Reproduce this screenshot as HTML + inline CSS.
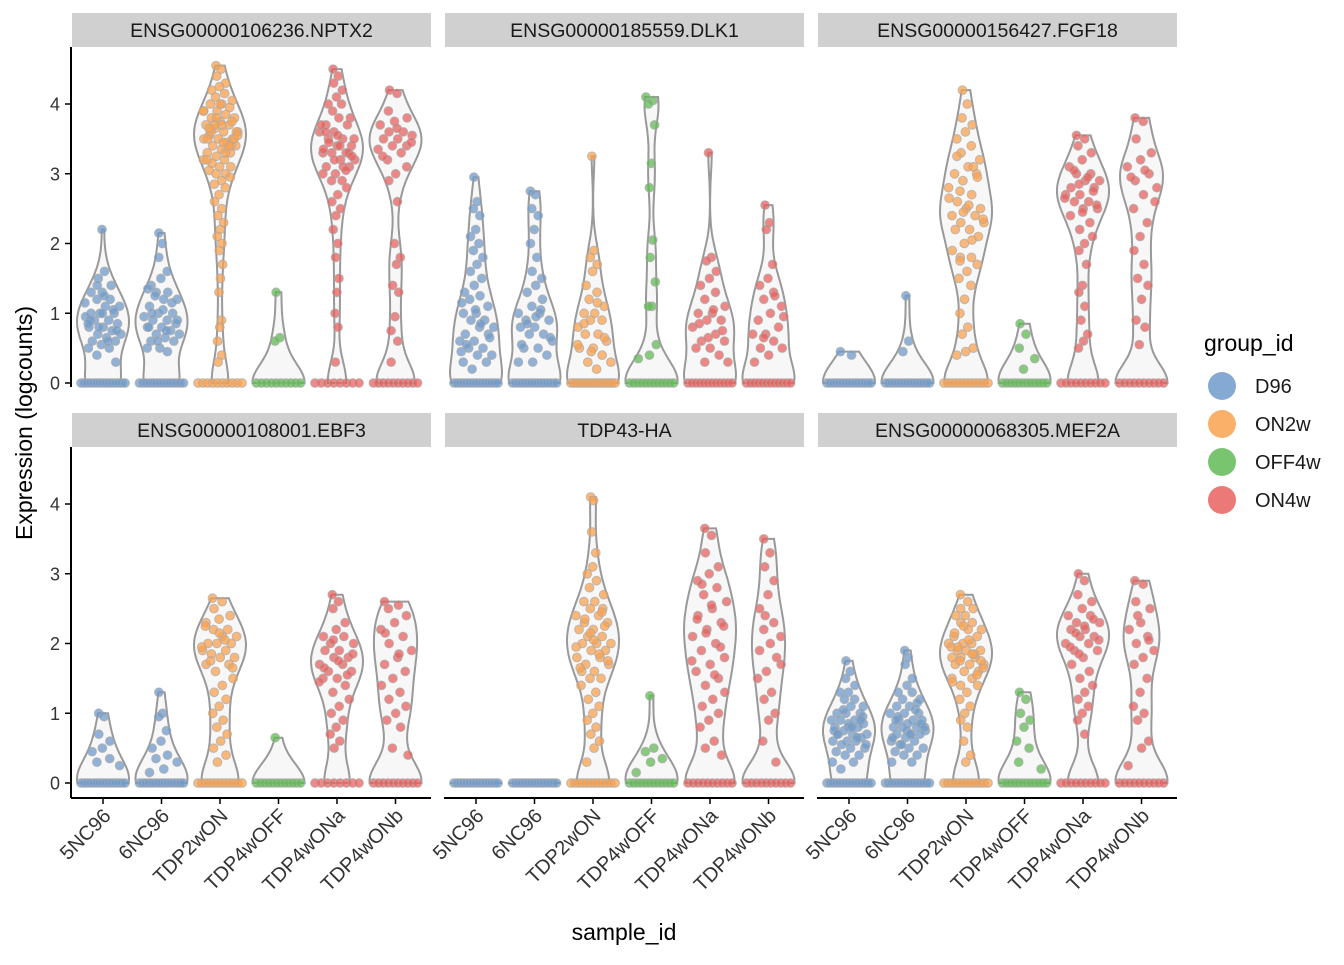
<!DOCTYPE html>
<html><head><meta charset="utf-8">
<style>
body{margin:0;background:#fff;}
svg text{font-family:"Liberation Sans",Arial,sans-serif;}
</style></head>
<body>
<svg id="chart" width="1344" height="960" xmlns="http://www.w3.org/2000/svg"></svg>
<script>
const categories = ["5NC96","6NC96","TDP2wON","TDP4wOFF","TDP4wONa","TDP4wONb"];
const groupOfCategory = ["D96","D96","ON2w","OFF4w","ON4w","ON4w"];
const groups = ["D96","ON2w","OFF4w","ON4w"];
const panelTitles = ["ENSG00000106236.NPTX2","ENSG00000185559.DLK1","ENSG00000156427.FGF18","ENSG00000108001.EBF3","TDP43-HA","ENSG00000068305.MEF2A"];
const yTicks = [0,1,2,3,4];
const zeroCounts = [
 [15,14,10,10,8,10],[15,15,15,12,12,12],[15,15,12,12,10,10],
 [15,15,12,12,8,10],[15,15,12,12,10,10],[15,15,12,12,10,10]];
const nptx2Vals = [
 [2.2,1.6,1.5,1.4,1.3,1.3,1.2,1.2,1.1,1.1,1.0,1.0,1.0,0.95,0.9,0.9,0.85,0.8,0.8,0.75,0.7,0.7,0.65,0.6,0.6,0.55,0.5,0.5,0.4,0.3,1.25,0.9,1.05,0.8,1.15,0.6,1.4,0.75,1.0,0.85],
 [2.15,2.0,1.8,1.6,1.5,1.4,1.3,1.3,1.2,1.2,1.1,1.0,1.0,0.95,0.9,0.9,0.85,0.8,0.8,0.75,0.7,0.7,0.65,0.6,0.6,0.5,0.5,0.45,1.25,0.9,1.05,0.8,1.15,0.6,1.35,0.75,1.0],
 [4.55,4.5,4.4,4.3,4.25,4.2,4.15,4.1,4.05,4.0,4.0,3.95,3.9,3.9,3.85,3.8,3.8,3.75,3.7,3.7,3.65,3.6,3.6,3.55,3.5,3.5,3.5,3.45,3.4,3.4,3.35,3.3,3.3,3.25,3.2,3.2,3.15,3.1,3.1,3.05,3.0,3.0,2.95,2.9,2.85,2.8,2.7,2.6,2.5,2.4,2.3,2.2,2.1,2.0,1.9,1.7,1.5,1.3,0.9,0.8,0.6,0.4,0.3,3.6,3.7,3.5,3.4,3.8,3.9,3.3,3.6,3.5,4.0,3.2,3.4,3.7,3.55,3.45,3.65,3.75],
 [1.3,0.65,0.6],
 [4.5,4.4,4.3,4.2,4.1,4.0,4.0,3.9,3.8,3.8,3.7,3.7,3.6,3.6,3.5,3.5,3.4,3.4,3.3,3.3,3.3,3.2,3.2,3.1,3.1,3.0,3.0,2.9,2.9,2.8,2.7,2.6,2.5,2.4,2.2,2.0,1.8,1.5,1.3,1.0,0.8,0.3,3.5,3.4,3.6,3.3,3.2,3.7,3.1,3.45,3.25,3.55,3.35,3.05],
 [4.2,4.15,3.9,3.8,3.75,3.7,3.6,3.6,3.55,3.5,3.5,3.4,3.4,3.35,3.3,3.2,3.1,3.0,2.9,2.6,2.0,1.8,1.7,1.4,1.3,0.95,0.75,0.6,0.3,3.45,3.65,3.25]];
const dlk1Vals = [
 [2.95,2.6,2.5,2.4,2.2,2.1,2.0,1.9,1.8,1.7,1.6,1.5,1.4,1.3,1.25,1.2,1.1,1.0,1.0,0.9,0.9,0.8,0.8,0.7,0.7,0.6,0.6,0.5,0.5,0.4,0.4,0.3,0.3,0.2,1.15,0.85,0.55,0.65,1.05,0.45],
 [2.75,2.7,2.5,2.4,2.2,2.0,1.8,1.6,1.5,1.4,1.3,1.2,1.1,1.0,1.0,0.9,0.9,0.8,0.8,0.7,0.7,0.6,0.5,0.5,0.4,0.3,0.3,1.05,0.85,0.65,0.95,0.55],
 [3.25,1.9,1.8,1.7,1.6,1.4,1.3,1.2,1.1,1.0,1.0,0.9,0.9,0.8,0.7,0.7,0.6,0.5,0.5,0.4,0.3,0.3,0.2,0.85,0.65,0.45,0.55,1.15],
 [4.1,4.05,4.0,3.7,3.15,2.8,2.05,1.8,1.45,1.1,1.1,0.55,0.4,0.35],
 [3.3,1.8,1.75,1.6,1.5,1.4,1.3,1.2,1.1,1.0,1.0,0.9,0.9,0.8,0.7,0.6,0.6,0.5,0.5,0.4,0.3,0.3,1.05,0.85,0.75,0.65],
 [2.55,2.3,2.2,1.7,1.5,1.4,1.3,1.2,1.1,1.0,0.9,0.8,0.7,0.7,0.6,0.5,0.5,0.4,0.3,1.25,0.65,0.95]];
const fgf18Vals = [
 [0.45,0.4],[1.25,0.6,0.45],
 [4.2,4.0,3.8,3.7,3.6,3.5,3.4,3.3,3.2,3.1,3.0,3.0,2.9,2.8,2.7,2.6,2.5,2.5,2.4,2.4,2.3,2.3,2.2,2.2,2.1,2.0,1.9,1.8,1.8,1.7,1.6,1.5,1.4,1.2,1.0,0.8,0.7,0.5,0.45,0.4,3.1,2.75,2.35,2.55,3.25,2.95,2.45,2.65,2.05,1.75],
 [0.85,0.7,0.5,0.35,0.2],
 [3.55,3.5,3.4,3.3,3.2,3.1,3.0,3.0,2.9,2.9,2.8,2.8,2.7,2.7,2.6,2.6,2.5,2.5,2.4,2.3,2.2,2.1,2.0,1.9,1.7,1.4,1.3,1.1,0.9,0.7,0.6,0.5,2.75,2.85,2.65,2.95,3.05,2.55,2.45],
 [3.8,3.75,3.5,3.3,3.2,3.1,3.0,2.9,2.8,2.7,2.5,2.3,2.1,1.9,1.7,1.5,1.4,1.2,0.9,0.8,0.55,2.6,3.05,2.95]];
const ebf3Vals = [
 [1.0,0.95,0.7,0.6,0.5,0.45,0.35,0.3,0.25],
 [1.3,1.0,0.95,0.75,0.6,0.5,0.4,0.35,0.3,0.2,0.15],
 [2.65,2.6,2.5,2.4,2.35,2.3,2.2,2.2,2.1,2.1,2.0,2.0,2.0,1.9,1.9,1.85,1.8,1.8,1.7,1.7,1.6,1.5,1.4,1.3,1.2,1.1,1.0,0.9,0.8,0.7,0.6,0.5,0.4,0.3,1.95,2.05,1.75,1.65,2.15,2.25],
 [0.65],
 [2.7,2.6,2.5,2.3,2.2,2.1,2.1,2.0,2.0,1.9,1.9,1.8,1.8,1.7,1.7,1.6,1.6,1.5,1.5,1.4,1.3,1.2,1.1,1.0,0.9,0.8,0.7,0.6,0.5,1.85,1.75,1.65,1.55,2.05,1.45],
 [2.6,2.55,2.5,2.4,2.3,2.2,2.1,2.0,1.9,1.8,1.7,1.6,1.5,1.4,1.3,1.2,1.1,1.0,0.9,0.8,0.5,0.4,1.85,2.15]];
const tdp43Vals = [
 [],[],
 [4.1,4.05,3.6,3.3,3.1,3.0,2.9,2.8,2.7,2.6,2.6,2.5,2.5,2.4,2.4,2.3,2.3,2.2,2.2,2.1,2.1,2.0,2.0,2.0,1.9,1.9,1.8,1.8,1.7,1.7,1.6,1.6,1.5,1.5,1.4,1.3,1.2,1.1,1.0,0.9,0.8,0.7,0.6,0.5,0.3,2.25,2.15,1.95,1.85,2.35,1.75,2.05,1.65,2.45],
 [1.25,0.5,0.45,0.35,0.3,0.15],
 [3.65,3.55,3.3,3.1,3.0,2.9,2.8,2.7,2.6,2.5,2.4,2.3,2.2,2.1,2.0,1.9,1.8,1.7,1.6,1.5,1.4,1.3,1.2,1.1,1.0,0.9,0.8,0.6,0.5,0.4,2.55,2.35,1.95,2.15,1.75,1.55,2.85,2.25],
 [3.5,3.3,3.1,2.9,2.7,2.5,2.3,2.2,2.1,2.0,1.9,1.8,1.6,1.5,1.3,1.2,1.0,0.9,0.6,0.3,2.4,1.7]];
const mef2aVals = [
 [1.75,1.6,1.5,1.4,1.3,1.3,1.2,1.2,1.1,1.1,1.0,1.0,1.0,0.9,0.9,0.9,0.85,0.8,0.8,0.8,0.75,0.7,0.7,0.7,0.65,0.6,0.6,0.6,0.55,0.5,0.5,0.45,0.4,0.4,0.3,0.3,0.2,0.95,0.85,0.75,0.65,1.05,0.55,0.8,0.7,0.9],
 [1.9,1.8,1.7,1.5,1.4,1.3,1.3,1.2,1.2,1.1,1.1,1.0,1.0,1.0,0.9,0.9,0.9,0.85,0.8,0.8,0.8,0.75,0.7,0.7,0.7,0.65,0.6,0.6,0.55,0.5,0.5,0.45,0.4,0.4,0.3,0.3,0.95,0.85,0.75,0.65,1.05,0.55,0.8,0.7,0.9,1.15],
 [2.7,2.6,2.5,2.5,2.4,2.4,2.3,2.3,2.2,2.2,2.1,2.1,2.0,2.0,2.0,1.9,1.9,1.9,1.8,1.8,1.8,1.7,1.7,1.7,1.6,1.6,1.5,1.5,1.4,1.4,1.3,1.2,1.1,1.0,0.9,0.8,0.6,0.4,0.3,1.95,1.85,1.75,1.65,2.05,2.15,1.55,2.25,1.45,1.85,1.95,1.75],
 [1.3,1.2,1.0,0.9,0.8,0.6,0.5,0.3,0.2],
 [3.0,2.9,2.7,2.6,2.5,2.4,2.4,2.3,2.3,2.2,2.2,2.1,2.1,2.0,2.0,1.9,1.9,1.8,1.7,1.6,1.5,1.4,1.3,1.2,1.1,1.0,0.9,0.7,2.15,2.05,2.25,1.95,2.35,1.85],
 [2.9,2.85,2.6,2.5,2.3,2.2,2.1,2.0,1.9,1.8,1.7,1.5,1.3,1.1,1.0,0.9,0.6,0.5,0.25,2.05,2.4]];
const panelVals = [nptx2Vals,dlk1Vals,fgf18Vals,ebf3Vals,tdp43Vals,mef2aVals];

const colors = {D96:"#6f9bcb",ON2w:"#f9a24f",OFF4w:"#62bb56",ON4w:"#e8625f"};
const NS="http://www.w3.org/2000/svg";
const svg=document.getElementById('chart');
function mk(tag,attrs,parent){const e=document.createElementNS(NS,tag);for(const k in attrs)e.setAttribute(k,attrs[k]);(parent||svg).appendChild(e);return e;}

const panelX=[72,445,818], panelW=359, step=58.5, off=31;
const rowTop=[47,447], zeroY=[383,783], unit=69.75;
function xScale(p,i){return panelX[p%3]+off+i*step;}
function yScale(p,v){return zeroY[Math.floor(p/3)]-v*unit;}

for(let p=0;p<6;p++){
  const col=p%3,row=Math.floor(p/3);
  const g=mk('g',{});
  
  
  const strip=mk('rect',{x:panelX[col],y:rowTop[row]-34,width:panelW,height:34,fill:'#d0d0d0'},g);
  
  
  const st=mk('text',{x:panelX[col]+panelW/2,y:rowTop[row]-10,'text-anchor':'middle','font-size':'19.5',fill:'#1a1a1a'},g);
  st.textContent=panelTitles[p];
  
  
  for(let c=0;c<6;c++){
    const vals=panelVals[p][c];
    const all=new Array(zeroCounts[p][c]).fill(0).concat(vals);
    const mx=Math.max(...all), bw=0.28;
    const dens=v=>{let s=0;for(const a of all){const z=(v-a)/bw;s+=Math.exp(-0.5*z*z);}return s;};
    const nS=60, pts=[];let dmax=0;
    for(let k=0;k<=nS;k++){const v=mx*k/nS;const d=dens(v);pts.push([v,d]);if(d>dmax)dmax=d;}
    const hw=26, cx=xScale(p,c);
    let dstr='';
    pts.forEach((q,k)=>{dstr+=(k?'L':'M')+(cx+q[1]/dmax*hw).toFixed(1)+','+yScale(p,q[0]).toFixed(1);});
    for(let k=pts.length-1;k>=0;k--){const q=pts[k];dstr+='L'+(cx-q[1]/dmax*hw).toFixed(1)+','+yScale(p,q[0]).toFixed(1);}
    dstr+='Z';
    const vp=mk('path',{d:dstr,fill:'#f7f7f7',stroke:'#999','stroke-width':'2'},g);
    
    
    const col2=colors[groupOfCategory[c]];
    const nz=zeroCounts[p][c];
    for(let i=0;i<nz;i++){
      const x=cx-22+44*(nz>1?i/(nz-1):0.5);
      const pt=mk('circle',{cx:x.toFixed(1),cy:yScale(p,0),r:4.4,fill:col2,'fill-opacity':0.75,stroke:'#aaa','stroke-opacity':0.7,'stroke-width':1},g);
      
      
    }
    vals.forEach((v,i)=>{
      const w=Math.min(dens(v)/dmax*hw,22)*0.85;
      const j=((i*0.618034)%1)*2-1;
      const pt=mk('circle',{cx:(cx+j*w).toFixed(1),cy:yScale(p,v).toFixed(1),r:4.4,fill:col2,'fill-opacity':0.75,stroke:'#aaa','stroke-opacity':0.7,'stroke-width':1},g);
      
      
    });
  }
  if(col===0){
    const ax=mk('line',{x1:71,x2:71,y1:rowTop[row],y2:row?798:387,stroke:'#000','stroke-width':2},g);
    
    
    yTicks.forEach(t=>{
      mk('line',{x1:65,x2:71,y1:yScale(p,t),y2:yScale(p,t),stroke:'#000','stroke-width':1.5},g);
      const tl=mk('text',{x:60,y:yScale(p,t)+6.5,'text-anchor':'end','font-size':'18',fill:'#333'},g);
      tl.textContent=t;
      
      
    });
  }
  if(row===1){
    const ax=mk('line',{x1:panelX[col]-1,x2:panelX[col]+panelW,y1:798,y2:798,stroke:'#000','stroke-width':2},g);
    
    
    categories.forEach((c,i)=>{
      const x=xScale(p,i);
      mk('line',{x1:x,x2:x,y1:798,y2:804,stroke:'#000','stroke-width':1.5},g);
      const tl=mk('text',{x:x+9,y:817,'text-anchor':'end','font-size':'20',fill:'#333',transform:`rotate(-45 ${x+9} 817)`},g);
      tl.textContent=c;
      
      
    });
  }
}
const yt=mk('text',{x:32,y:423,'text-anchor':'middle','font-size':'23',fill:'#000',transform:'rotate(-90 32 423)'});
yt.textContent='Expression (logcounts)';


const xt=mk('text',{x:624,y:940,'text-anchor':'middle','font-size':'23',fill:'#000'});
xt.textContent='sample_id';


const lt=mk('text',{x:1204,y:351,'font-size':'23',fill:'#000'});
lt.textContent='group_id';


groups.forEach((gname,i)=>{
  const y=386+i*38;
  const e=mk('g',{});
  
  
  mk('circle',{cx:1222,cy:y,r:14,fill:colors[gname],'fill-opacity':0.85},e);
  const t=mk('text',{x:1255,y:y+7,'font-size':'20',fill:'#1a1a1a'},e);
  t.textContent=gname;
});
</script>
</body></html>
